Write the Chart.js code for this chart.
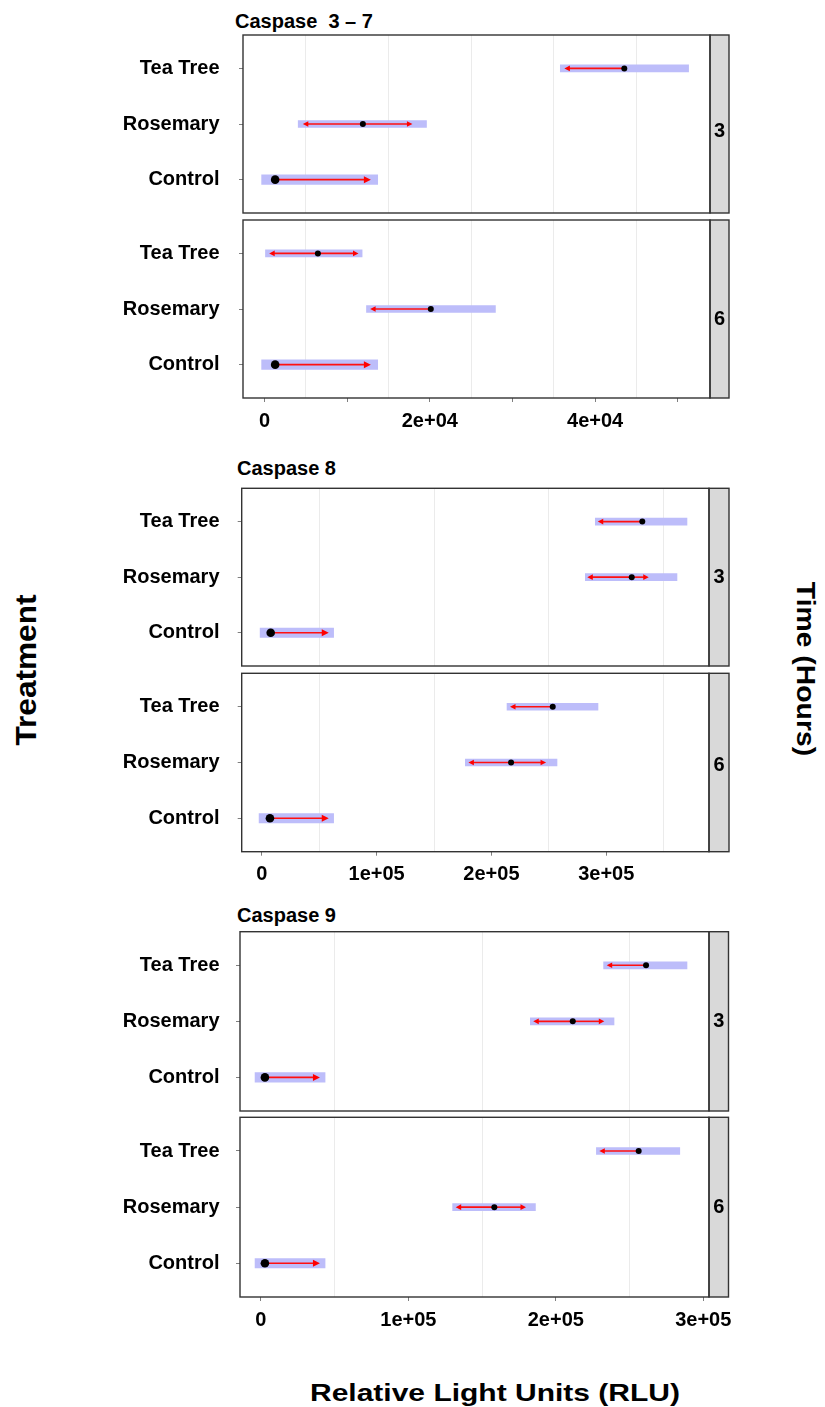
<!DOCTYPE html>
<html>
<head>
<meta charset="utf-8">
<title>Caspase activity by treatment and time</title>
<script src="https://cdn.jsdelivr.net/npm/chart.js@4.4.1/dist/chart.umd.min.js"></script>
<style>
  html, body { margin: 0; padding: 0; background: #fff; }
  #page {
    position: relative; width: 825px; height: 1407px; overflow: hidden;
    font-family: "Liberation Sans", Arial, sans-serif; font-weight: bold; color: #000;
  }
  #page canvas { position: absolute; left: 0; }
  .title { position: absolute; font-size: 20px; line-height: 20px; white-space: pre; }
  .axis-title { position: absolute; white-space: nowrap; line-height: 1; }
</style>
</head>
<body>
<div id="page">
  <div class="title" style="left:235px; top:11px;">Caspase  3 – 7</div>
  <div class="title" style="left:237px; top:458px;">Caspase 8</div>
  <div class="title" style="left:237px; top:905px;">Caspase 9</div>

  <div class="axis-title" style="left:26px; top:670px; font-size:29px; transform:translate(-50%,-50%) rotate(-90deg) scaleX(1.09);">Treatment</div>
  <div class="axis-title" style="left:806px; top:669px; font-size:26px; transform:translate(-50%,-50%) rotate(90deg) scaleX(1.09);">Time (Hours)</div>
  <div class="axis-title" style="left:495px; top:1393px; font-size:24px; transform:translate(-50%,-50%) scaleX(1.25);">Relative Light Units (RLU)</div>
</div>

<script>
// Row order on each panel, bottom to top (y = 1, 2, 3)
const treatments = ['Control', 'Rosemary', 'Tea Tree'];

// ---- Caspase 3/7 ----
const c37h3Low     = [-240, 4040, 35750];
const c37h3High    = [13590, 19640, 51350];
const c37h3Mean    = [1290, 11900, 43530];
const c37h3ArrowLo = [null, 4640, 36280];
const c37h3ArrowHi = [12870, 17900, null];

const c37h6Low     = [-240, 12300, 80];
const c37h6High    = [13590, 27980, 11850];
const c37h6Mean    = [1290, 20120, 6460];
const c37h6ArrowLo = [null, 12780, 570];
const c37h6ArrowHi = [12870, null, 11370];

// ---- Caspase 8 ----
const c8h3Low     = [-700, 281500, 290200];
const c8h3High    = [61800, 361900, 370600];
const c8h3Mean    = [7750, 322200, 331400];
const c8h3ArrowLo = [null, 283500, 292600];
const c8h3ArrowHi = [58300, 337000, null];

const c8h6Low     = [-1600, 177000, 213300];
const c8h6High    = [61800, 257400, 293100];
const c8h6Mean    = [7100, 217100, 253400];
const c8h6ArrowLo = [null, 179900, 216200];
const c8h6ArrowHi = [58300, 247600, null];

// ---- Caspase 9 ----
const c9h3Low     = [-3400, 182500, 232200];
const c9h3High    = [42900, 239700, 289200];
const c9h3Mean    = [2700, 211500, 261200];
const c9h3ArrowLo = [null, 184700, 234500];
const c9h3ArrowHi = [40000, 232900, null];

const c9h6Low     = [-3400, 129800, 227300];
const c9h6High    = [42900, 186400, 284300];
const c9h6Mean    = [2700, 158300, 256200];
const c9h6ArrowLo = [null, 132100, 229500];
const c9h6ArrowHi = [40000, 179800, null];

// ---- x axes: range, tick marks, tick labels, grid lines ----
const c37Range      = [-2600, 53900];
const c37Ticks      = [0, 10000, 20000, 30000, 40000, 50000];
const c37TickLabels = ['0', '', '2e+04', '', '4e+04', ''];
const c37Grid       = [5000, 15000, 25000, 35000, 45000];

const c8Range      = [-17500, 389500];
const c8Ticks      = [0, 100000, 200000, 300000];
const c8TickLabels = ['0', '1e+05', '2e+05', '3e+05'];
const c8Grid       = [50000, 150000, 250000, 350000];

const c9Range      = [-14200, 303900];
const c9Ticks      = [0, 100000, 200000, 300000];
const c9TickLabels = ['0', '1e+05', '2e+05', '3e+05'];
const c9Grid       = [50000, 150000, 250000];

const timeLabels = ['3', '6'];

const FONT = '"Liberation Sans", Arial, sans-serif';

// Facet boxes on the page (plot area edges and strip edge)
const facets = [
  { top: 35,    bottom: 213,    left: 243,   right: 710, strip: 729,   labels: false, stripDy: 7 },
  { top: 220,   bottom: 398,    left: 243,   right: 710, strip: 729,   labels: true,  stripDy: 10 },
  { top: 488.3, bottom: 666,    left: 241.7, right: 709, strip: 729,   labels: false, stripDy: 0 },
  { top: 673.3, bottom: 851.7,  left: 241.7, right: 709, strip: 729,   labels: true,  stripDy: 3 },
  { top: 931.7, bottom: 1111,   left: 240,   right: 709, strip: 728.5, labels: false, stripDy: 0 },
  { top: 1117.3, bottom: 1297,  left: 240,   right: 709, strip: 728.5, labels: true,  stripDy: 0 }
];

const series = [
  { low: c37h3Low, high: c37h3High, mean: c37h3Mean, lo: c37h3ArrowLo, hi: c37h3ArrowHi,
    range: c37Range, ticks: c37Ticks, tickLabels: c37TickLabels, grid: c37Grid, time: timeLabels[0] },
  { low: c37h6Low, high: c37h6High, mean: c37h6Mean, lo: c37h6ArrowLo, hi: c37h6ArrowHi,
    range: c37Range, ticks: c37Ticks, tickLabels: c37TickLabels, grid: c37Grid, time: timeLabels[1] },
  { low: c8h3Low, high: c8h3High, mean: c8h3Mean, lo: c8h3ArrowLo, hi: c8h3ArrowHi,
    range: c8Range, ticks: c8Ticks, tickLabels: c8TickLabels, grid: c8Grid, time: timeLabels[0] },
  { low: c8h6Low, high: c8h6High, mean: c8h6Mean, lo: c8h6ArrowLo, hi: c8h6ArrowHi,
    range: c8Range, ticks: c8Ticks, tickLabels: c8TickLabels, grid: c8Grid, time: timeLabels[1] },
  { low: c9h3Low, high: c9h3High, mean: c9h3Mean, lo: c9h3ArrowLo, hi: c9h3ArrowHi,
    range: c9Range, ticks: c9Ticks, tickLabels: c9TickLabels, grid: c9Grid, time: timeLabels[0] },
  { low: c9h6Low, high: c9h6High, mean: c9h6Mean, lo: c9h6ArrowLo, hi: c9h6ArrowHi,
    range: c9Range, ticks: c9Ticks, tickLabels: c9TickLabels, grid: c9Grid, time: timeLabels[1] }
];

// Red arrows from the mean, panel frame and the grey time strip
const facetDecor = {
  id: 'facetDecor',
  afterDatasetDraw(chart, args, opts) {
    if (args.meta.type !== 'bar') return;
    const ctx = chart.ctx, xs = chart.scales.x, ys = chart.scales.y;
    ctx.save();
    ctx.strokeStyle = '#ff1010';
    ctx.fillStyle = '#ff0000';
    ctx.lineWidth = 1.6;
    opts.mean.forEach((m, i) => {
      const y = ys.getPixelForValue(i + 1);
      const x0 = xs.getPixelForValue(m);
      const big = i === 0;
      const len = big ? 7 : 5.5, half = big ? 3.5 : 2.8;
      [opts.lo[i], opts.hi[i]].forEach(end => {
        if (end === null || end === undefined) return;
        const x1 = xs.getPixelForValue(end);
        const dir = x1 > x0 ? 1 : -1;
        ctx.beginPath();
        ctx.moveTo(x0, y);
        ctx.lineTo(x1 - dir * len * 0.7, y);
        ctx.stroke();
        ctx.beginPath();
        ctx.moveTo(x1, y);
        ctx.lineTo(x1 - dir * len, y - half);
        ctx.lineTo(x1 - dir * len, y + half);
        ctx.closePath();
        ctx.fill();
      });
    });
    ctx.restore();
  },
  afterDraw(chart, args, opts) {
    const ctx = chart.ctx, ca = chart.chartArea;
    const h = ca.bottom - ca.top;
    ctx.save();
    ctx.fillStyle = '#d9d9d9';
    ctx.fillRect(ca.right, ca.top, opts.strip - ca.right, h);
    ctx.strokeStyle = '#333';
    ctx.lineWidth = 1.4;
    ctx.strokeRect(ca.left, ca.top, ca.right - ca.left, h);
    ctx.strokeRect(ca.right, ca.top, opts.strip - ca.right, h);
    ctx.fillStyle = '#000';
    ctx.font = 'bold 20px ' + FONT;
    ctx.textAlign = 'center';
    ctx.textBaseline = 'middle';
    ctx.fillText(opts.time, (ca.right + opts.strip) / 2, (ca.top + ca.bottom) / 2 + opts.stripDy);
    ctx.restore();
  }
};

const page = document.getElementById('page');
const CANVAS_W = 740;

facets.forEach((box, idx) => {
  const s = series[idx];
  const canvas = document.createElement('canvas');
  const top0 = Math.floor(box.top) - 6;
  const padTop = box.top - top0;
  const plotH = box.bottom - box.top;
  const xH = box.labels ? 40 : 0;
  const H = Math.ceil(padTop + plotH + xH + 6);
  const padBottom = H - padTop - plotH - xH;
  canvas.width = CANVAS_W;
  canvas.height = H;
  canvas.style.top = top0 + 'px';
  canvas.style.width = CANVAS_W + 'px';
  canvas.style.height = H + 'px';
  page.appendChild(canvas);

  const xTickSet = s.ticks.concat(s.grid).sort((a, b) => a - b);

  new Chart(canvas, {
    type: 'bar',
    data: {
      datasets: [
        {
          type: 'scatter',
          order: 0,
          data: s.mean.map((v, i) => ({ x: v, y: i + 1 })),
          pointRadius: c => (c.dataIndex === 0 ? 4.3 : 3),
          pointBackgroundColor: '#000',
          pointBorderWidth: 0,
          showLine: false
        },
        {
          type: 'bar',
          order: 1,
          indexAxis: 'y',
          data: s.low.map((v, i) => ({ x: [v, s.high[i]], y: i + 1 })),
          backgroundColor: '#bdbdfa',
          borderWidth: 0,
          barThickness: 7.7,
          inflateAmount: c => (c.dataIndex === 0 ? 1.2 : 0)
        }
      ]
    },
    options: {
      responsive: false,
      animation: false,
      events: [],
      indexAxis: 'y',
      layout: { padding: { top: padTop, bottom: padBottom, left: 0, right: CANVAS_W - box.right } },
      plugins: {
        legend: { display: false },
        tooltip: { enabled: false },
        facetDecor: {
          mean: s.mean, lo: s.lo, hi: s.hi,
          strip: box.strip, time: s.time, stripDy: box.stripDy
        }
      },
      scales: {
        x: {
          type: 'linear',
          position: 'bottom',
          min: s.range[0],
          max: s.range[1],
          offset: false,
          afterBuildTicks: sc => { sc.ticks = xTickSet.map(v => ({ value: v })); },
          afterFit: sc => {
            sc.height = xH;
            sc.paddingLeft = 0; sc.paddingRight = 0;
            sc.paddingTop = 0; sc.paddingBottom = 0;
          },
          border: { display: false },
          grid: {
            offset: false,
            drawOnChartArea: true,
            drawTicks: box.labels,
            tickLength: 4,
            lineWidth: 1,
            color: c => (c.tick && s.grid.includes(c.tick.value) ? '#ebebeb' : 'rgba(0,0,0,0)'),
            tickColor: c => (c.tick && s.ticks.includes(c.tick.value) ? '#7f7f7f' : 'rgba(0,0,0,0)')
          },
          ticks: {
            display: box.labels,
            autoSkip: false,
            maxRotation: 0,
            minRotation: 0,
            padding: 7,
            color: '#000',
            font: { family: FONT, size: 20, weight: 'bold' },
            callback: v => {
              const k = s.ticks.indexOf(v);
              return k < 0 ? '' : s.tickLabels[k];
            }
          }
        },
        y: {
          type: 'linear',
          position: 'left',
          min: 0.4,
          max: 3.6,
          offset: false,
          afterBuildTicks: sc => { sc.ticks = [1, 2, 3].map(v => ({ value: v })); },
          afterFit: sc => {
            sc.width = box.left;
            sc.paddingTop = 0; sc.paddingBottom = 0;
            sc.paddingLeft = 0; sc.paddingRight = 0;
          },
          border: { display: false },
          grid: {
            offset: false,
            drawOnChartArea: false,
            drawTicks: true,
            tickLength: 4,
            tickColor: '#7f7f7f'
          },
          ticks: {
            autoSkip: false,
            padding: box.left - 4 - 219.5,
            color: '#000',
            font: { family: FONT, size: 20, weight: 'bold' },
            callback: v => treatments[v - 1]
          }
        }
      }
    },
    plugins: [facetDecor]
  });
});
</script>
</body>
</html>
